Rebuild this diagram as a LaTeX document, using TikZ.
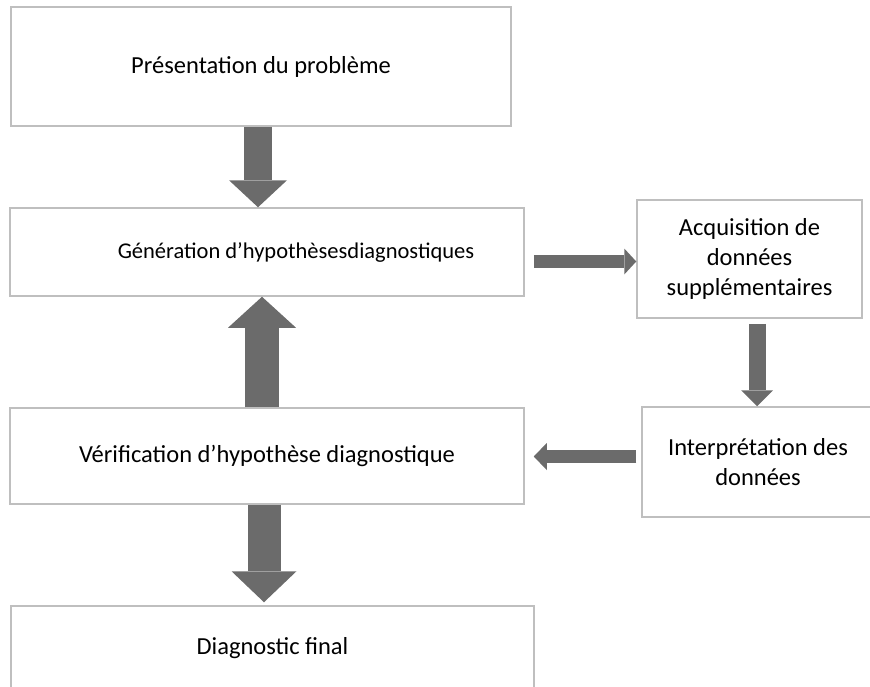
\documentclass[tikz,border=0pt]{standalone}
\usepackage{fontspec}
\setmainfont{Carlito}
\usetikzlibrary{arrows.meta,calc}
\definecolor{boxgray}{HTML}{BFBFBF}
\definecolor{arrowgray}{HTML}{6B6B6B}
\tikzset{
  box/.style={draw=boxgray, line width=1.5pt, fill=white, inner sep=0pt, align=center},
  fatarrow/.style n args={3}{draw=arrowgray, line width=#1, -{Triangle[length=#2, width=#3, line width=0pt]}},
}

\begin{document}
\begin{tikzpicture}[line join=miter, x=1pt, y=-1pt, font=\fontsize{24.5}{30}\selectfont]
		\clip (0,0) rectangle (870,686);
		\node[box, minimum width=500pt, minimum height=119pt] (pres) at (261,66.5) {Présentation du problème};
		\node[box, minimum width=514pt, minimum height=88pt, label={[xshift=29pt, font=\fontsize{22.5}{27}\selectfont]center:Génération d’hypothèsesdiagnostiques}] (gen) at (267,252) {};
		\node[box, minimum width=225pt, minimum height=118pt] (acq) at (749.5,259) {Acquisition de\\données\\supplémentaires};
		\node[box, minimum width=232pt, minimum height=110pt] (interp) at (758,462) {Interprétation des\\données};
		\node[box, minimum width=514pt, minimum height=96pt] (verif) at (267,456) {Vérification d’hypothèse diagnostique};
		\node[box, minimum width=523pt, minimum height=84pt] (diag) at (272.5,648) {Diagnostic final};
		\coordinate (s3) at ([xshift=9pt,yshift=-9.5pt]gen.east);
		\coordinate (s4) at ([xshift=7.5pt,yshift=-5pt]acq.south);
		\coordinate (s5) at ([xshift=-5pt,yshift=5.5pt]interp.west);
		\draw[fatarrow={28pt}{27pt}{58pt}] ([xshift=-3pt]pres.south) -- ($(pres.south |- gen.north)+(-3pt,0)$);
		\draw[fatarrow={34pt}{31pt}{68pt}] ([xshift=-5pt]verif.north) -- ($(verif.north |- gen.south)+(-5pt,0)$);
		\draw[fatarrow={13pt}{12pt}{26pt}] (s3) -- (s3 -| acq.west);
		\draw[fatarrow={17pt}{16pt}{32pt}] (s4) -- (s4 |- interp.north);
		\draw[fatarrow={13pt}{13pt}{27pt}] (s5) -- ($(verif.east |- s5)+(9pt,0)$);
		\draw[fatarrow={33pt}{31pt}{65pt}] ([xshift=-3pt]verif.south) -- ($(verif.south |- diag.north)+(-3pt,3pt)$);
	\end{tikzpicture}
\end{document}
